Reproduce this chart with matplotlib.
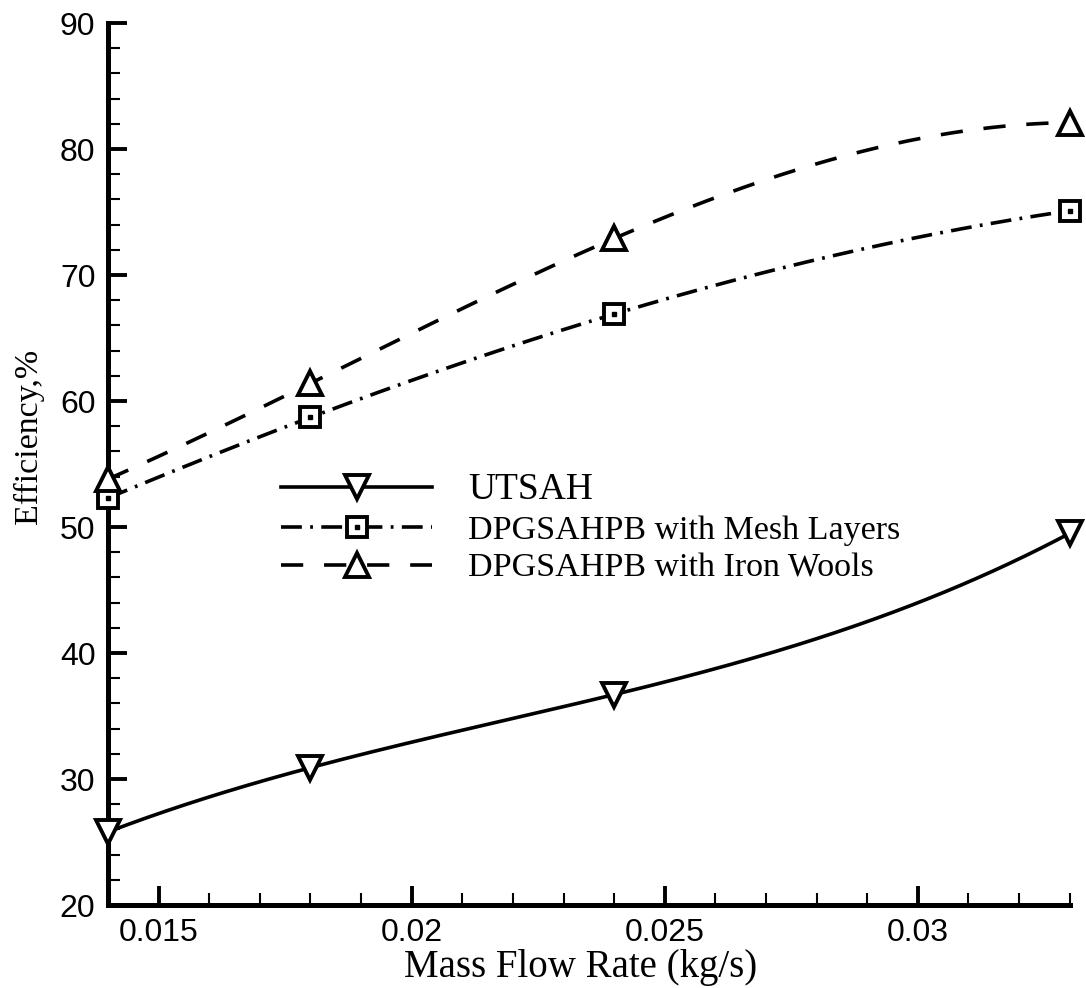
import numpy as np
import matplotlib
matplotlib.use("Agg")
import matplotlib.pyplot as plt
from matplotlib.ticker import MultipleLocator, FixedLocator
from matplotlib.legend_handler import HandlerTuple

# Mass flow rate (kg/s) and collector efficiency (%)
mass_flow = [0.014, 0.018, 0.024, 0.033]
eff_utsah = [25.8, 30.9, 36.7, 49.5]
eff_mesh = [52.3, 58.7, 66.9, 75.1]
eff_wool = [53.8, 61.4, 72.9, 82.1]

series_labels = ["UTSAH", "DPGSAHPB with Mesh Layers", "DPGSAHPB with Iron Wools"]
x_ticks = [0.015, 0.02, 0.025, 0.03]
x_tick_labels = ["0.015", "0.02", "0.025", "0.03"]
y_ticks = [20, 30, 40, 50, 60, 70, 80, 90]

plt.rcParams["lines.scale_dashes"] = False
serif = ["Liberation Serif", "DejaVu Serif"]
sans = ["Liberation Sans", "DejaVu Sans"]

fig = plt.figure(figsize=(10.86, 9.88), dpi=100)
ax = fig.add_axes([0.0994, 0.0840, 0.8856, 0.8927])


def smooth(xs, ys):
    coeffs = np.polyfit(xs, ys, 3)
    xx = np.linspace(min(xs), max(xs), 300)
    return xx, np.polyval(coeffs, xx)


lw = 2.6
styles = [
    dict(marker="v", dashes=None),
    dict(marker="s", dashes=(15, 6, 2, 6)),
    dict(marker="^", dashes=(16, 15)),
]
handles = []
for ys, st in zip([eff_utsah, eff_mesh, eff_wool], styles):
    xx, yy = smooth(mass_flow, ys)
    (ln,) = ax.plot(xx, yy, color="black", lw=lw, zorder=2)
    if st["dashes"] is not None:
        ln.set_dashes(st["dashes"])
    size = 15 if st["marker"] == "s" else 17
    (mk,) = ax.plot(mass_flow, ys, linestyle="none", marker=st["marker"],
                    markersize=size, markerfacecolor="white",
                    markeredgecolor="black", markeredgewidth=2.8,
                    zorder=4, clip_on=False)
    parts = [ln, mk]
    if st["marker"] == "s":
        (dot,) = ax.plot(mass_flow, ys, linestyle="none", marker="s",
                         markersize=3, color="black", zorder=5,
                         clip_on=False)
        parts.append(dot)
    handles.append(tuple(parts))

ax.set_xlim(0.014, 0.033)
ax.set_ylim(20, 90)
ax.xaxis.set_major_locator(FixedLocator(x_ticks))
ax.set_xticklabels(x_tick_labels)
ax.xaxis.set_minor_locator(MultipleLocator(0.001))
ax.yaxis.set_major_locator(FixedLocator(y_ticks))
ax.yaxis.set_minor_locator(MultipleLocator(2))

for side in ("top", "right"):
    ax.spines[side].set_visible(False)
for side in ("left", "bottom"):
    ax.spines[side].set_linewidth(3.6)

ax.tick_params(which="major", direction="in", length=13.5, width=2.8,
               labelsize=23, pad=9)
ax.tick_params(which="minor", direction="in", length=8.5, width=1.5)
for lab in ax.get_xticklabels() + ax.get_yticklabels():
    lab.set_family(sans)

ax.set_xlabel("Mass Flow Rate (kg/s)", family=serif, fontsize=28)
ax.xaxis.set_label_coords(0.4917, -0.05)
ax.set_ylabel("Efficiency,%", family=serif, fontsize=24.5)
ax.yaxis.set_label_coords(-0.0665, 0.531)

leg = ax.legend(handles, series_labels,
                handler_map={tuple: HandlerTuple(ndivide=1)},
                loc="upper left", bbox_to_anchor=(0.18, 0.49),
                frameon=False, numpoints=1, handlelength=4.45,
                handletextpad=1.05, labelspacing=0.22,
                borderaxespad=0, borderpad=0,
                prop=dict(family=serif, size=24.5))
leg.get_texts()[0].set_fontsize(27)

fig.savefig("out.png", dpi=100, facecolor="white")
